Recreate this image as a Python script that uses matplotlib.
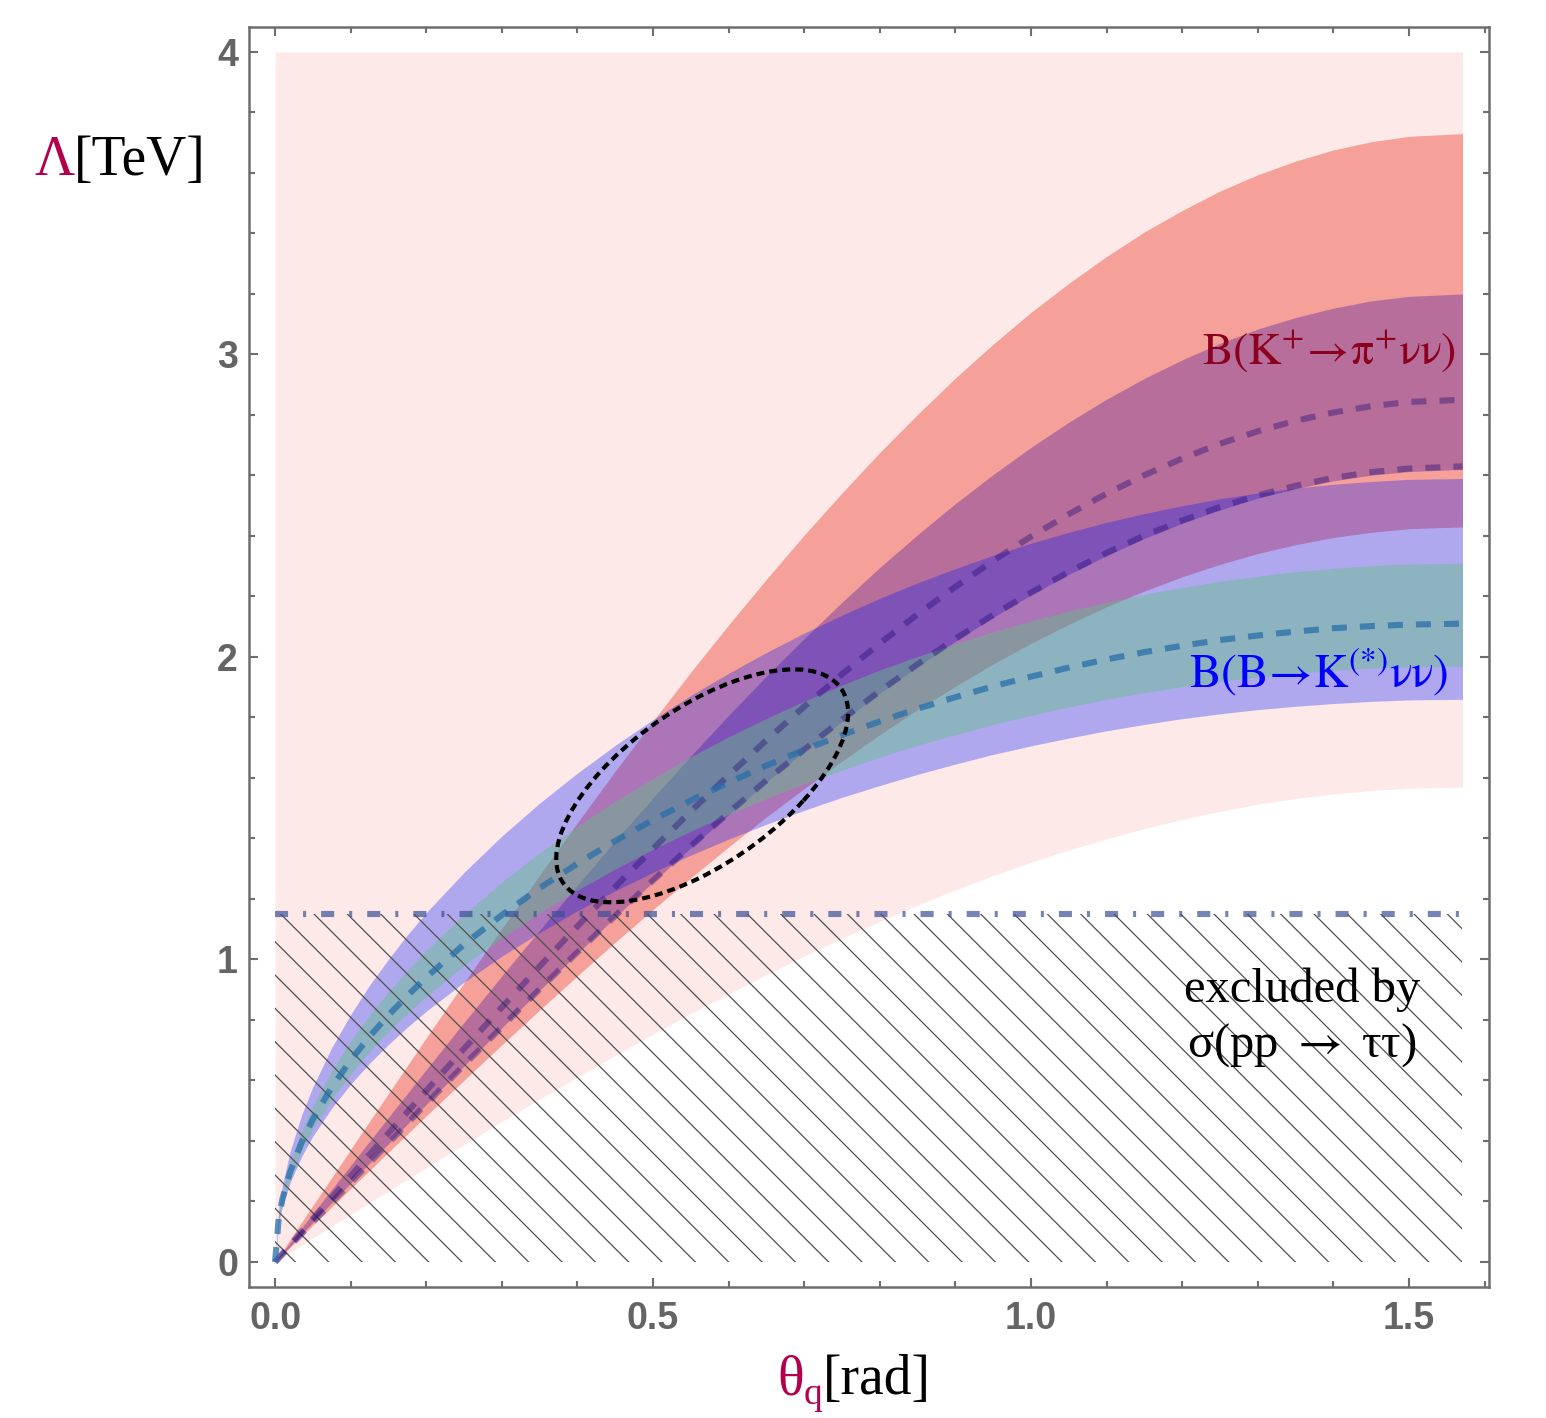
import matplotlib
matplotlib.use('Agg')
import matplotlib.pyplot as plt
from matplotlib.patches import Ellipse
from matplotlib.ticker import MultipleLocator

plt.rcParams['mathtext.fontset'] = 'stix'
plt.rcParams['hatch.linewidth'] = 0.45
plt.rcParams['hatch.color'] = '#505050'
plt.rcParams['lines.scale_dashes'] = False

# theta_q grid [rad]
theta = [0, 0.005, 0.01, 0.02, 0.035, 0.05, 0.075, 0.1, 0.125, 0.15, 0.175, 0.2, 0.25, 0.3, 0.35,
         0.4, 0.45, 0.5, 0.55, 0.6, 0.65, 0.7, 0.75, 0.8, 0.85, 0.9, 0.95, 1.0, 1.05, 1.1, 1.15,
         1.2, 1.25, 1.3, 1.35, 1.4, 1.45, 1.5, 1.5708]

# K+ -> pi+ nu nu bands (Lambda in TeV)
pink_low = [0, 0.008, 0.016, 0.031, 0.055, 0.079, 0.118, 0.157, 0.196, 0.235, 0.273, 0.312, 0.388,
            0.464, 0.538, 0.611, 0.683, 0.753, 0.821, 0.886, 0.950, 1.011, 1.070, 1.126, 1.180,
            1.230, 1.277, 1.321, 1.362, 1.399, 1.433, 1.463, 1.490, 1.513, 1.532, 1.547, 1.559,
            1.566, 1.570]
pink_top = 4.0
salmon_up = [0, 0.019, 0.037, 0.075, 0.131, 0.187, 0.279, 0.372, 0.465, 0.557, 0.649, 0.741, 0.923,
             1.102, 1.279, 1.452, 1.623, 1.788, 1.950, 2.106, 2.257, 2.403, 2.542, 2.676, 2.802,
             2.922, 3.034, 3.139, 3.235, 3.324, 3.405, 3.476, 3.540, 3.594, 3.639, 3.676, 3.703,
             3.721, 3.730]
salmon_low = [0, 0.012, 0.024, 0.049, 0.085, 0.122, 0.182, 0.243, 0.303, 0.363, 0.423, 0.483, 0.601,
              0.718, 0.833, 0.946, 1.057, 1.165, 1.270, 1.372, 1.471, 1.565, 1.656, 1.743, 1.826,
              1.903, 1.977, 2.045, 2.108, 2.166, 2.218, 2.265, 2.306, 2.342, 2.371, 2.395, 2.412,
              2.424, 2.430]
kp_up = [0, 0.016, 0.032, 0.064, 0.112, 0.160, 0.240, 0.319, 0.399, 0.478, 0.557, 0.636, 0.792,
         0.946, 1.097, 1.246, 1.392, 1.534, 1.673, 1.807, 1.937, 2.061, 2.181, 2.296, 2.404,
         2.507, 2.603, 2.693, 2.776, 2.852, 2.921, 2.982, 3.037, 3.084, 3.122, 3.153, 3.177,
         3.192, 3.200]
kp_low = [0, 0.013, 0.026, 0.052, 0.092, 0.131, 0.196, 0.261, 0.327, 0.391, 0.456, 0.521, 0.648,
          0.774, 0.898, 1.020, 1.140, 1.256, 1.369, 1.479, 1.586, 1.688, 1.786, 1.880, 1.968,
          2.052, 2.131, 2.205, 2.273, 2.335, 2.392, 2.442, 2.486, 2.525, 2.556, 2.582, 2.601,
          2.613, 2.620]
k_dash1 = [0, 0.014, 0.029, 0.057, 0.100, 0.143, 0.213, 0.284, 0.355, 0.426, 0.496, 0.566, 0.705,
           0.842, 0.977, 1.110, 1.240, 1.366, 1.490, 1.609, 1.725, 1.836, 1.943, 2.045, 2.141,
           2.232, 2.318, 2.398, 2.472, 2.540, 2.601, 2.656, 2.705, 2.746, 2.781, 2.808, 2.829,
           2.843, 2.850]
k_dash2 = [0, 0.013, 0.026, 0.053, 0.092, 0.132, 0.197, 0.262, 0.328, 0.393, 0.458, 0.523, 0.651,
           0.777, 0.902, 1.024, 1.144, 1.261, 1.375, 1.485, 1.592, 1.694, 1.793, 1.887, 1.976,
           2.060, 2.139, 2.213, 2.281, 2.344, 2.401, 2.451, 2.496, 2.534, 2.566, 2.592, 2.611,
           2.623, 2.630]

# B -> K(*) nu nu bands
lav_up = [0, 0.183, 0.259, 0.366, 0.485, 0.579, 0.709, 0.818, 0.915, 1.001, 1.081, 1.155, 1.288,
          1.408, 1.517, 1.616, 1.708, 1.793, 1.873, 1.946, 2.015, 2.079, 2.138, 2.194, 2.245,
          2.292, 2.336, 2.376, 2.412, 2.445, 2.474, 2.500, 2.523, 2.542, 2.558, 2.571, 2.580,
          2.587, 2.590]
lav_low = [0, 0.132, 0.186, 0.263, 0.348, 0.416, 0.509, 0.588, 0.657, 0.719, 0.776, 0.829, 0.925,
           1.011, 1.089, 1.161, 1.227, 1.288, 1.345, 1.398, 1.447, 1.493, 1.536, 1.575, 1.612,
           1.646, 1.678, 1.706, 1.732, 1.756, 1.777, 1.796, 1.812, 1.826, 1.837, 1.846, 1.853,
           1.858, 1.860]
teal_up = [0, 0.163, 0.231, 0.327, 0.432, 0.517, 0.632, 0.730, 0.816, 0.893, 0.964, 1.030, 1.149,
           1.256, 1.353, 1.441, 1.523, 1.599, 1.670, 1.736, 1.797, 1.854, 1.907, 1.957, 2.002,
           2.044, 2.083, 2.119, 2.152, 2.181, 2.207, 2.230, 2.250, 2.267, 2.282, 2.293, 2.302,
           2.307, 2.310]
teal_low = [0, 0.139, 0.197, 0.279, 0.369, 0.440, 0.539, 0.622, 0.696, 0.761, 0.822, 0.878, 0.980,
            1.071, 1.154, 1.229, 1.299, 1.364, 1.424, 1.480, 1.532, 1.581, 1.626, 1.669, 1.708,
            1.743, 1.777, 1.807, 1.835, 1.860, 1.882, 1.902, 1.919, 1.934, 1.946, 1.956, 1.963,
            1.967, 1.970]
b_dash = [0, 0.149, 0.211, 0.298, 0.395, 0.472, 0.578, 0.667, 0.745, 0.816, 0.880, 0.941, 1.050,
          1.147, 1.236, 1.317, 1.392, 1.461, 1.526, 1.585, 1.641, 1.693, 1.742, 1.787, 1.829,
          1.867, 1.903, 1.935, 1.965, 1.992, 2.016, 2.037, 2.056, 2.071, 2.084, 2.095, 2.102,
          2.107, 2.110]

# sigma(pp -> tau tau) exclusion
excl_theta = [0, 1.5708]
excl_lambda = 1.15

# best-fit contour
ell_center = (0.565, 1.574)
ell_width = 0.813
ell_height = 0.285
ell_angle = 70.0

x_ticks = [0, 0.5, 1.0, 1.5]
x_labels = ['0.0', '0.5', '1.0', '1.5']
y_ticks = [0, 1, 2, 3, 4]
y_labels = ['0', '1', '2', '3', '4']

crimson = '#b4004b'
grey = '#6e6e6e'

fig = plt.figure(figsize=(7.73, 7.09), dpi=200)
ax = fig.add_axes([0.1611, 0.0924, 0.802, 0.8886])

ax.fill_between(theta, pink_low, pink_top, color='#fde9e8', lw=0, zorder=1)
ax.fill_between(theta, salmon_low, salmon_up, color='#f5a098', lw=0, zorder=2)
ax.fill_between(theta, kp_low, kp_up, color=(123/255, 62/255, 156/255), alpha=0.5, lw=0, zorder=3)
ax.fill_between(theta, lav_low, lav_up, color=(0, 20/255, 1), alpha=0.3, lw=0, zorder=4)
ax.fill_between(theta, teal_low, teal_up, color=(94/255, 194/255, 132/255), alpha=0.44, lw=0, zorder=5)

# hatched excluded region
ax.fill_between(excl_theta, 0, excl_lambda, facecolor='none', edgecolor='#505050',
                hatch='\\\\', lw=0, zorder=6)

dash = (0, (5.4, 4.7))
ax.plot(theta, k_dash1, color=(30/255, 8/255, 114/255), alpha=0.38, lw=2.2, ls=dash, zorder=7)
ax.plot(theta, k_dash2, color=(30/255, 8/255, 114/255), alpha=0.38, lw=2.2, ls=dash, zorder=7)
ax.plot(theta, b_dash, color=(40/255, 110/255, 170/255), alpha=0.75, lw=2.2, ls=dash, zorder=7)

ax.hlines(excl_lambda, excl_theta[0], excl_theta[-1], color=(60/255, 80/255, 150/255), alpha=0.7,
          lw=2.2, ls=(0, (4.7, 5.4, 1.1, 5.4)), zorder=8)

ax.add_patch(Ellipse(ell_center, ell_width, ell_height, angle=ell_angle, fill=False,
                     ec='black', lw=1.5, ls=(0, (2.9, 1.8)), zorder=9))

# labels inside the plot
ax.text(1.561, 2.97, r'$\mathrm{B(K^{+}\!\rightarrow\!\pi^{+}\nu\nu)}$', color='#8b001e',
        fontsize=16.5, ha='right', va='baseline', zorder=10)
ax.text(1.552, 1.90, r'$\mathrm{B(B\!\rightarrow\!K^{(*)}\nu\nu)}$', color='#0000ff',
        fontsize=17, ha='right', va='baseline', zorder=10)
ax.text(1.3585, 0.86, 'excluded by', family='Liberation Serif', fontsize=17.5, ha='center',
        va='baseline', zorder=10)
ax.text(1.3585, 0.678, r'σ(pp $\rightarrow$ ττ)', family='Liberation Serif', fontsize=17.5,
        ha='center', va='baseline', zorder=10)

ax.set_xlim(-0.0344, 1.6058)
ax.set_ylim(-0.0826, 4.0826)
ax.set_xticks(x_ticks)
ax.set_xticklabels(x_labels, family='Liberation Sans', fontweight='bold', fontsize=13.5, color='#646464')
ax.set_yticks(y_ticks)
ax.set_yticklabels(y_labels, family='Liberation Sans', fontweight='bold', fontsize=13.5, color='#646464')
ax.xaxis.set_minor_locator(MultipleLocator(0.1))
ax.yaxis.set_minor_locator(MultipleLocator(0.2))
ax.tick_params(which='both', direction='in', top=True, right=True, color=grey, width=0.75)
ax.tick_params(which='major', length=3.3)
ax.tick_params(which='minor', length=2.2)
ax.tick_params(axis='x', pad=5)
ax.tick_params(axis='y', pad=4)
for sp in ax.spines.values():
    sp.set_color(grey)
    sp.set_linewidth(0.9)

# axis titles
t_lam = fig.text(0.022, 0.8766, 'Λ', family='Liberation Serif', fontsize=20, color=crimson, va='baseline')
ax.annotate('[TeV]', xy=(1, 0.8766), xycoords=(t_lam, 'figure fraction'), family='Liberation Serif',
            fontsize=20, va='baseline', ha='left', annotation_clip=False)
t_th = fig.text(0.5026, 0.0169, 'θ', family='Liberation Serif', fontsize=20, color=crimson, va='baseline')
t_q = ax.annotate('q', xy=(1, 0.0099), xycoords=(t_th, 'figure fraction'), family='Liberation Serif',
                  fontsize=13.5, color=crimson, va='baseline', ha='left', annotation_clip=False)
ax.annotate('[rad]', xy=(1, 0.0169), xycoords=(t_q, 'figure fraction'), family='Liberation Serif',
            fontsize=20, va='baseline', ha='left', annotation_clip=False)

fig.savefig('out.png', dpi=200)
